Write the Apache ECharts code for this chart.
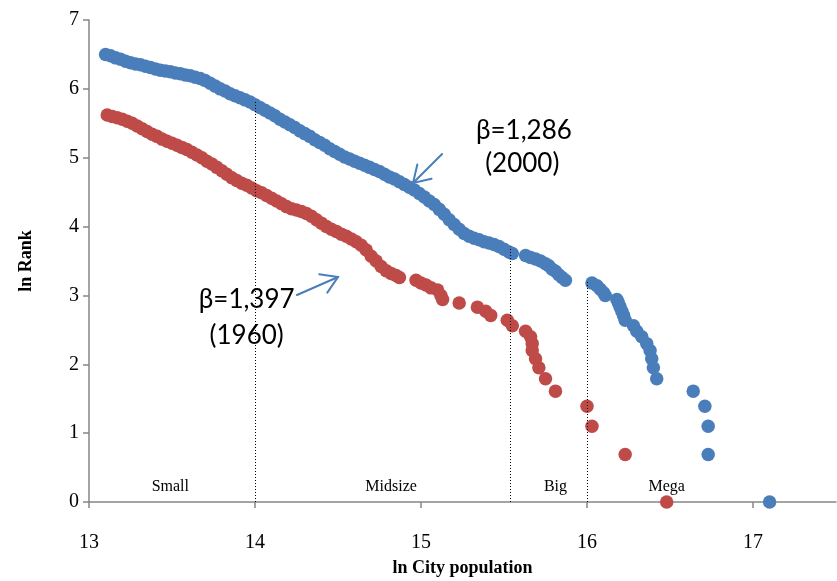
<!DOCTYPE html>
<html>
<head>
<meta charset="utf-8">
<script src="https://cdn.jsdelivr.net/npm/echarts@6/dist/echarts.min.js"></script>
<style>
  html, body { margin: 0; padding: 0; background: #ffffff; }
  #chart { width: 837px; height: 581px; }
</style>
</head>
<body>
<div id="chart"></div>
<script>
// Axis ticks
const xTicks = [13, 14, 15, 16, 17];
const yTicks = [0, 1, 2, 3, 4, 5, 6, 7];

// Year 2000: ln city population vs ln rank
const lnPop2000 = [
  13.10, 13.13, 13.16, 13.19, 13.22, 13.25, 13.28, 13.31, 13.34, 13.37,
  13.40, 13.43, 13.46, 13.49, 13.52, 13.55, 13.58, 13.61, 13.64, 13.67,
  13.70, 13.73, 13.76, 13.79, 13.82, 13.85, 13.88, 13.91, 13.94, 13.97,
  14.00, 14.03, 14.06, 14.09, 14.12, 14.15, 14.18, 14.21, 14.24, 14.27,
  14.30, 14.33, 14.36, 14.39, 14.42, 14.45, 14.48, 14.51, 14.54, 14.57,
  14.60, 14.63, 14.66, 14.69, 14.72, 14.75, 14.78, 14.81, 14.84, 14.87,
  14.90, 14.93, 14.96, 14.99, 15.02, 15.05, 15.08, 15.11, 15.14, 15.17,
  15.20, 15.23, 15.26, 15.29, 15.32, 15.35, 15.38, 15.41, 15.44, 15.47,
  15.50, 15.53, 15.55,
  15.63, 15.66, 15.69, 15.72, 15.75, 15.77, 15.79, 15.81, 15.83, 15.85, 15.87,
  16.03, 16.06, 16.08, 16.10, 16.11, 16.18, 16.19, 16.20, 16.21, 16.22, 16.23,
  16.28, 16.30, 16.33, 16.36, 16.38, 16.39, 16.40, 16.42,
  16.64, 16.71, 16.73, 16.73, 17.10
];
const lnRank2000 = [
  6.50, 6.48, 6.45, 6.43, 6.40, 6.38, 6.36, 6.35, 6.33, 6.31,
  6.29, 6.27, 6.26, 6.25, 6.23, 6.22, 6.20, 6.19, 6.17, 6.15,
  6.12, 6.08, 6.04, 6.00, 5.97, 5.93, 5.90, 5.87, 5.84, 5.81,
  5.77, 5.73, 5.69, 5.65, 5.61, 5.56, 5.52, 5.48, 5.44, 5.39,
  5.35, 5.31, 5.26, 5.22, 5.18, 5.13, 5.09, 5.05, 5.01, 4.98,
  4.95, 4.92, 4.89, 4.86, 4.83, 4.80, 4.76, 4.72, 4.69, 4.65,
  4.61, 4.57, 4.53, 4.48, 4.43, 4.37, 4.32, 4.25, 4.18, 4.10,
  4.03, 3.96, 3.90, 3.86, 3.83, 3.81, 3.78, 3.76, 3.74, 3.71,
  3.67, 3.63, 3.61,
  3.58, 3.55, 3.53, 3.50, 3.46, 3.43, 3.38, 3.35, 3.30, 3.26, 3.22,
  3.18, 3.14, 3.09, 3.04, 3.00, 2.94, 2.89, 2.83, 2.77, 2.71, 2.64,
  2.56, 2.48, 2.40, 2.30, 2.20, 2.08, 1.95, 1.79,
  1.61, 1.39, 1.10, 0.69, 0.00
];

// Year 1960: ln city population vs ln rank
const lnPop1960 = [
  13.11, 13.14, 13.17, 13.20, 13.23, 13.26, 13.29, 13.32, 13.35, 13.38,
  13.41, 13.44, 13.47, 13.50, 13.53, 13.56, 13.59, 13.62, 13.65, 13.68,
  13.71, 13.74, 13.77, 13.80, 13.83, 13.86, 13.89, 13.92, 13.95, 13.98,
  14.01, 14.04, 14.07, 14.10, 14.13, 14.16, 14.19, 14.22, 14.25, 14.28,
  14.31, 14.34, 14.37, 14.40, 14.43, 14.46, 14.49, 14.52, 14.55, 14.58,
  14.61, 14.64, 14.67, 14.70, 14.73, 14.76, 14.79, 14.82, 14.85, 14.87,
  14.97, 15.00, 15.03, 15.06, 15.10, 15.12, 15.13, 15.23, 15.34, 15.39,
  15.42, 15.52, 15.55, 15.63, 15.66, 15.67, 15.67, 15.69, 15.71, 15.75,
  15.81, 16.00, 16.03, 16.23, 16.48
];
const lnRank1960 = [
  5.62, 5.60, 5.58, 5.56, 5.53, 5.50, 5.46, 5.42, 5.38, 5.34,
  5.31, 5.27, 5.24, 5.21, 5.18, 5.15, 5.12, 5.08, 5.04, 5.00,
  4.95, 4.91, 4.86, 4.81, 4.76, 4.71, 4.67, 4.63, 4.60, 4.56,
  4.52, 4.49, 4.45, 4.41, 4.37, 4.33, 4.29, 4.26, 4.24, 4.22,
  4.19, 4.15, 4.10, 4.05, 4.00, 3.96, 3.93, 3.89, 3.86, 3.82,
  3.78, 3.73, 3.66, 3.57, 3.50, 3.42, 3.36, 3.32, 3.29, 3.26,
  3.22, 3.18, 3.15, 3.11, 3.08, 3.00, 2.94, 2.89, 2.83, 2.77,
  2.71, 2.64, 2.56, 2.48, 2.40, 2.30, 2.20, 2.08, 1.95, 1.79,
  1.61, 1.39, 1.10, 0.69, 0.00
];

// City size classes and their boundaries (ln population)
const sizeClasses = ['Small', 'Midsize', 'Big', 'Mega'];
const classBounds = [14.0, 15.54, 16.0];
const classBoundTops = [5.81, 3.71, 3.20];

// Pareto exponent annotations
const betaLabels = ['β=1,286', 'β=1,397'];
const yearLabels = ['(2000)', '(1960)'];

// ---- layout of annotations (data coordinates) ----
const classLabelPos = [[13.49, 0.22], [14.82, 0.22], [15.81, 0.22], [16.48, 0.22]];
const betaPos = [[15.62, 5.40], [13.95, 2.94]];
const yearPos = [[15.61, 4.92], [13.95, 2.42]];
const arrows = [
  { from: [15.127, 5.054], to: [14.952, 4.633] },
  { from: [14.253, 3.006], to: [14.500, 3.268] }
];

const BLUE = '#4a7ebb';
const RED = '#be4b48';
const AXIS = '#868686';
const SERIF = '"Liberation Serif", "DejaVu Serif", serif';
const SANS = 'Lato, "Liberation Sans", sans-serif';

const zip = (xs, ys) => xs.map((x, i) => [x, ys[i]]);

const chart = echarts.init(document.getElementById('chart'), null, { renderer: 'canvas' });

chart.setOption({
  animation: false,
  backgroundColor: '#ffffff',
  grid: { left: 89, right: 1, top: 20, bottom: 79, containLabel: false, outerBoundsMode: 'none' },
  xAxis: {
    type: 'value',
    min: 13, max: 17.5, interval: 1,
    splitLine: { show: false },
    axisLine: { show: true, onZero: false, lineStyle: { color: AXIS, width: 1.5 } },
    axisTick: { show: true, inside: false, length: 6, customValues: xTicks, lineStyle: { color: AXIS, width: 1.5 } },
    axisLabel: { customValues: xTicks, margin: 31, color: '#000', fontFamily: SERIF, fontSize: 20 },
    name: 'ln City population',
    nameLocation: 'middle',
    nameGap: 57,
    nameTextStyle: { color: '#000', fontFamily: SERIF, fontSize: 18, fontWeight: 'bold' }
  },
  yAxis: {
    type: 'value',
    min: 0, max: 7, interval: 1,
    splitLine: { show: false },
    axisLine: { show: true, onZero: false, lineStyle: { color: AXIS, width: 1.5 } },
    axisTick: { show: true, inside: false, length: 6, customValues: yTicks, lineStyle: { color: AXIS, width: 1.5 } },
    axisLabel: { customValues: yTicks, margin: 10, color: '#000', fontFamily: SERIF, fontSize: 20 },
    name: 'ln Rank',
    nameLocation: 'middle',
    nameGap: 54,
    nameRotate: 90,
    nameTextStyle: { color: '#000', fontFamily: SERIF, fontSize: 18, fontWeight: 'bold' }
  },
  series: [
    {
      name: '1960',
      type: 'scatter',
      data: zip(lnPop1960, lnRank1960),
      symbol: 'circle',
      symbolSize: 13.5,
      itemStyle: { color: RED, opacity: 1 },
      emphasis: { disabled: true },
      z: 3,
      markLine: {
        silent: true,
        symbol: ['none', 'none'],
        label: { show: false },
        lineStyle: { color: '#000', type: [1, 2], width: 1 },
        data: classBounds.map((b, i) => [
          { coord: [b, 0] },
          { coord: [b, classBoundTops[i]] }
        ])
      }
    },
    {
      name: '2000',
      type: 'scatter',
      data: zip(lnPop2000, lnRank2000),
      symbol: 'circle',
      symbolSize: 13.5,
      itemStyle: { color: BLUE, opacity: 1 },
      emphasis: { disabled: true },
      z: 4
    }
  ]
});

// Annotations placed through the grid's coordinate system
function buildAnnotations() {
  const px = p => chart.convertToPixel({ gridIndex: 0 }, p);
  const els = [];

  sizeClasses.forEach((name, i) => {
    const p = px(classLabelPos[i]);
    els.push({
      type: 'text', x: p[0], y: p[1], silent: true, z: 10,
      style: { text: name, fill: '#000', font: '16px ' + SERIF, align: 'center', verticalAlign: 'middle' }
    });
  });

  betaLabels.forEach((t, i) => {
    const p = px(betaPos[i]);
    els.push({
      type: 'text', x: p[0], y: p[1], silent: true, z: 10,
      style: { text: t, fill: '#000', font: '26px ' + SANS, align: 'center', verticalAlign: 'middle' }
    });
    const q = px(yearPos[i]);
    els.push({
      type: 'text', x: q[0], y: q[1], silent: true, z: 10,
      style: { text: yearLabels[i], fill: '#000', font: '26px ' + SANS, align: 'center', verticalAlign: 'middle' }
    });
  });

  arrows.forEach(a => {
    const f = px(a.from), t = px(a.to);
    const dx = f[0] - t[0], dy = f[1] - t[1];
    const len = Math.hypot(dx, dy);
    const ux = dx / len, uy = dy / len;
    const head = 19, ang = 32 * Math.PI / 180;
    const rot = (s) => [
      t[0] + head * (ux * Math.cos(s) - uy * Math.sin(s)),
      t[1] + head * (ux * Math.sin(s) + uy * Math.cos(s))
    ];
    const style = { stroke: BLUE, lineWidth: 2, fill: null, lineCap: 'round' };
    els.push({ type: 'polyline', silent: true, z: 10, shape: { points: [f, t] }, style });
    els.push({ type: 'polyline', silent: true, z: 10, shape: { points: [rot(ang), t, rot(-ang)] }, style });
  });

  chart.setOption({ graphic: els });
}
buildAnnotations();
</script>
</body>
</html>
